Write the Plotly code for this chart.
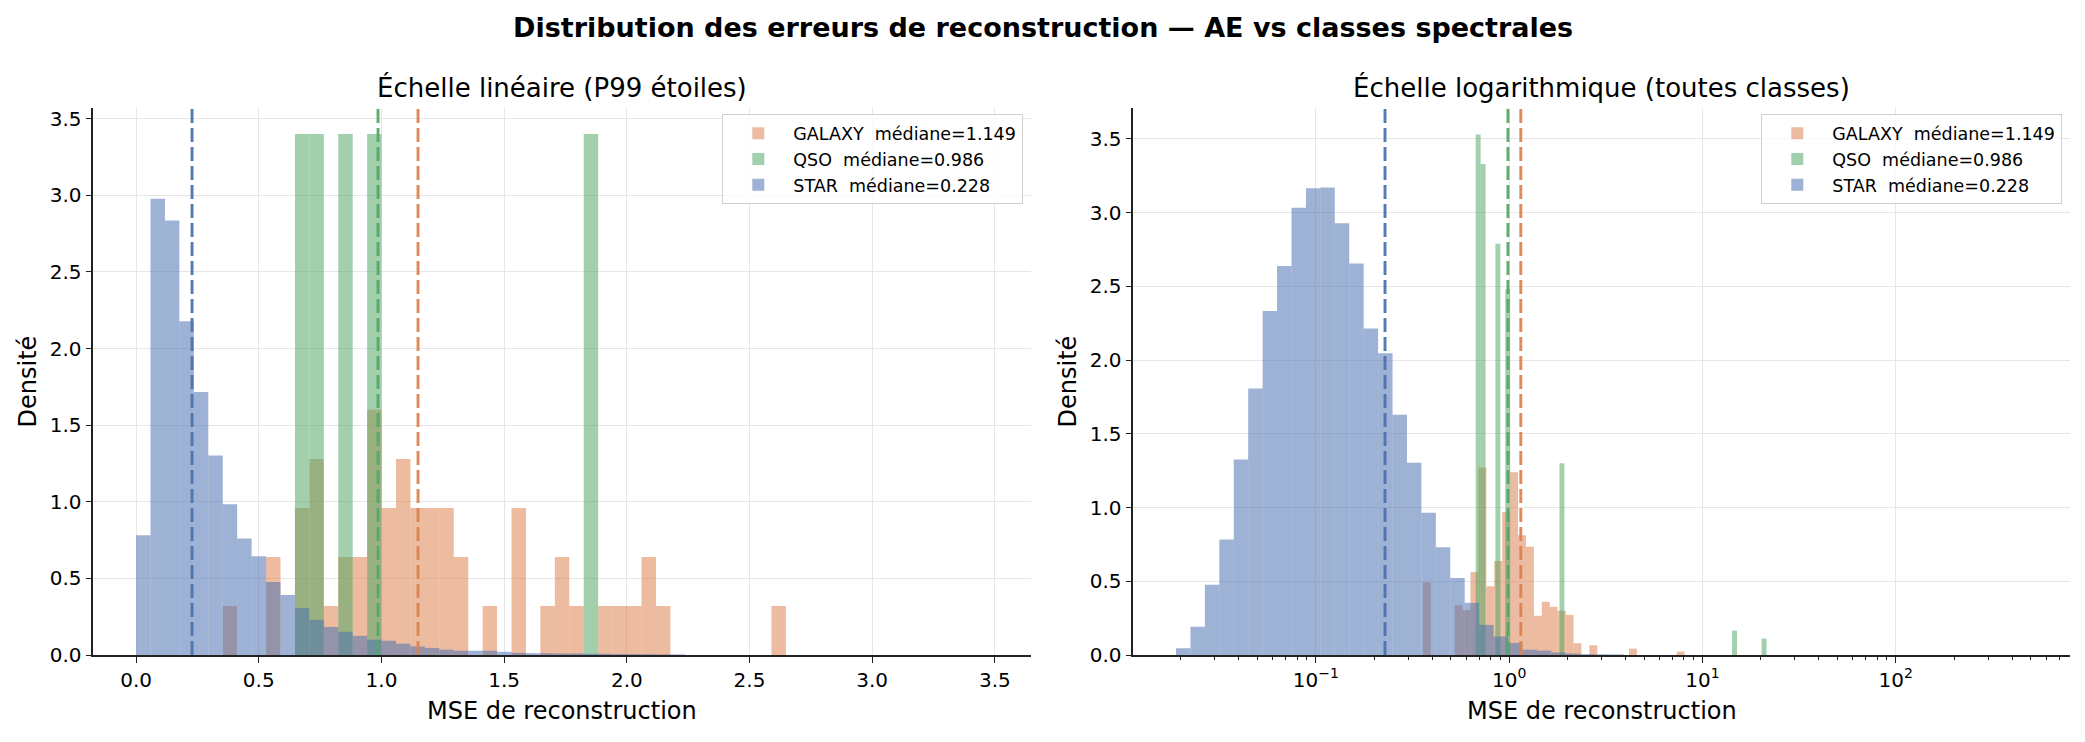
import plotly.graph_objects as go

# ---------------- data ----------------
CLASSES = ["GALAXY", "QSO", "STAR"]
MEDIANS = {"GALAXY": 1.149, "QSO": 0.986, "STAR": 0.228}
COLORS = {"GALAXY": "#dd8452", "QSO": "#55a868", "STAR": "#4c72b0"}

# Linear panel: common bins starting at 0
LIN_BIN_START = 0.0
LIN_BIN_WIDTH = 0.05885

galaxy_lin = [0, 0, 0, 0, 0, 0, 0.32, 0, 0, 0.64, 0, 0.96, 1.28, 0.32, 0.64,
              0.64, 1.60, 0.96, 1.28, 0.96, 0.96, 0.96, 0.64, 0, 0.32, 0, 0.96,
              0, 0.32, 0.64, 0.32, 0, 0.32, 0.32, 0.32, 0.64, 0.32, 0, 0, 0,
              0, 0, 0, 0, 0.32]
qso_lin = [0, 0, 0, 0, 0, 0, 0, 0, 0, 0, 0, 3.40, 3.40, 0, 3.40, 0, 3.40,
           0, 0, 0, 0, 0, 0, 0, 0, 0, 0, 0, 0, 0, 0, 3.40]
star_lin = [0.782, 2.977, 2.835, 2.179, 1.717, 1.302, 0.984, 0.761, 0.645,
            0.476, 0.392, 0.306, 0.230, 0.183, 0.151, 0.125, 0.100, 0.093,
            0.074, 0.056, 0.046, 0.035, 0.028, 0.028, 0.028, 0.021, 0.014,
            0.012, 0.012, 0.010, 0.010, 0.008, 0.008, 0.006, 0.006, 0.005,
            0.004, 0.004]

# Log panel: per-class log-spaced bins (start and width in log10 units)
GALAXY_LOG_START, GALAXY_LOG_WIDTH = -0.446, 0.041
QSO_LOG_START, QSO_LOG_WIDTH = -0.173, 0.0255
STAR_LOG_START, STAR_LOG_WIDTH = -1.723, 0.07466

galaxy_log = [0.493, 0, 0, 0, 0.337, 0.305, 0.562, 1.271, 0.466, 0.637, 0.969,
              1.240, 0.812, 0.734, 0.266, 0.361, 0.327, 0.300, 0.272, 0.080, 0,
              0.066, 0, 0, 0, 0, 0.043, 0, 0, 0, 0, 0, 0.023]
qso_log = [3.53, 3.33, 0, 0, 2.79, 0, 2.48, 0, 0, 0, 0, 0, 0, 0, 0, 0, 0, 1.30,
           0, 0, 0, 0, 0, 0, 0, 0, 0, 0, 0, 0, 0, 0, 0, 0, 0, 0, 0, 0, 0, 0,
           0, 0, 0, 0, 0, 0, 0, 0, 0, 0, 0, 0, 0.165, 0, 0, 0, 0, 0, 0.111]
star_log = [0.046, 0.191, 0.477, 0.783, 1.326, 1.808, 2.334, 2.639, 3.034,
            3.165, 3.170, 2.928, 2.656, 2.215, 2.046, 1.630, 1.304, 0.965,
            0.730, 0.523, 0.354, 0.204, 0.126, 0.082, 0.036, 0.030, 0.017,
            0.010, 0.006, 0.005, 0.004]

LIN_DATA = {"GALAXY": galaxy_lin, "QSO": qso_lin, "STAR": star_lin}
LOG_DATA = {"GALAXY": (GALAXY_LOG_START, GALAXY_LOG_WIDTH, galaxy_log),
            "QSO": (QSO_LOG_START, QSO_LOG_WIDTH, qso_log),
            "STAR": (STAR_LOG_START, STAR_LOG_WIDTH, star_log)}

X_LIN_RANGE = [-0.174, 3.646]
Y_LIN_MAX = 3.57
X_LOG_RANGE = [-1.944, 2.901]
Y_LOG_MAX = 3.71

LOG_TICKS = [0.1, 1, 10, 100]
LOG_TICKTEXT = ["10<sup>\u22121</sup>", "10<sup>0</sup>", "10<sup>1</sup>", "10<sup>2</sup>"]

# ---------------- figure ----------------
W, H = 2085, 742
FONT = "DejaVu Sans"
ALPHA = 0.55


def px(x):
    return x / W


def py(y):
    return 1 - y / H


def rgba(hx, a):
    hx = hx.lstrip("#")
    r, g, b = int(hx[0:2], 16), int(hx[2:4], 16), int(hx[4:6], 16)
    return f"rgba({r},{g},{b},{a})"


fig = go.Figure()

LINE_STYLE = dict(width=2.9, dash="14px,5px")

# left panel
for name in CLASSES:
    heights = LIN_DATA[name]
    centers = [LIN_BIN_START + (k + 0.5) * LIN_BIN_WIDTH for k in range(len(heights))]
    fig.add_trace(go.Bar(
        x=centers, y=heights, width=LIN_BIN_WIDTH,
        marker=dict(color=rgba(COLORS[name], ALPHA), line=dict(width=0)),
        name=f"{name}  médiane={MEDIANS[name]:.3f}", legendgroup=name,
        xaxis="x", yaxis="y", legend="legend", hoverinfo="skip"))
    fig.add_trace(go.Scatter(
        x=[MEDIANS[name], MEDIANS[name]], y=[0, Y_LIN_MAX], mode="lines",
        line=dict(color=COLORS[name], **LINE_STYLE), opacity=0.95, legendgroup=name,
        showlegend=False, hoverinfo="skip", xaxis="x", yaxis="y"))

# right panel
for name in CLASSES:
    s, w, heights = LOG_DATA[name]
    lo = [10 ** (s + k * w) for k in range(len(heights))]
    hi = [10 ** (s + (k + 1) * w) for k in range(len(heights))]
    centers = [(a + b) / 2 for a, b in zip(lo, hi)]
    widths = [b - a for a, b in zip(lo, hi)]
    fig.add_trace(go.Bar(
        x=centers, y=heights, width=widths,
        marker=dict(color=rgba(COLORS[name], ALPHA), line=dict(width=0)),
        name=f"{name}  médiane={MEDIANS[name]:.3f}", legendgroup=name + "2",
        xaxis="x2", yaxis="y2", legend="legend2", hoverinfo="skip"))
    fig.add_trace(go.Scatter(
        x=[MEDIANS[name], MEDIANS[name]], y=[0, Y_LOG_MAX], mode="lines",
        line=dict(color=COLORS[name], **LINE_STYLE), opacity=0.95, legendgroup=name + "2",
        showlegend=False, hoverinfo="skip", xaxis="x2", yaxis="y2"))

AX_COLOR = "#222222"
GRID = "#e6e6e6"
TICKFONT = dict(family=FONT, size=20, color="#000000")

axis_common = dict(showline=True, linecolor=AX_COLOR, linewidth=1.6, ticks="outside",
                   ticklen=6, tickwidth=1.3, tickcolor=AX_COLOR, showgrid=True,
                   gridcolor=GRID, gridwidth=1.2, zeroline=False, tickfont=TICKFONT,
                   mirror=False, automargin=False)

minor_vals = [m * 10 ** e for e in range(-2, 3) for m in range(2, 10)]

L_X0, L_X1 = 93.4, 1030.7
R_X0, R_X1 = 1133.3, 2070.0
Y_TOP, Y_BOT = 108.0, 655.0

legend_common = dict(xanchor="right", yanchor="top", bgcolor="rgba(255,255,255,0.8)",
                     bordercolor="#d0d0d0", borderwidth=1.3, itemwidth=60,
                     tracegroupgap=3,
                     font=dict(family=FONT, size=17.5, color="#000000"), traceorder="normal")

fig.update_layout(
    template="none",
    width=W, height=H, autosize=False,
    margin=dict(l=0, r=0, t=0, b=0, pad=0, autoexpand=False),
    paper_bgcolor="white", plot_bgcolor="white",
    barmode="overlay",
    font=dict(family=FONT, color="#000000"),
    xaxis=dict(domain=[px(L_X0), px(L_X1)], range=X_LIN_RANGE, tickmode="linear",
               tick0=0, dtick=0.5, tickformat=".1f", anchor="y", **axis_common),
    yaxis=dict(domain=[py(Y_BOT), py(Y_TOP)], range=[0, Y_LIN_MAX], tickmode="linear",
               tick0=0, dtick=0.5, tickformat=".1f", anchor="x", **axis_common),
    xaxis2=dict(domain=[px(R_X0), px(R_X1)], type="log", range=X_LOG_RANGE,
                tickmode="array", tickvals=LOG_TICKS, ticktext=LOG_TICKTEXT, anchor="y2",
                minor=dict(tickmode="array", tickvals=minor_vals, ticks="outside", ticklen=3.5,
                           tickwidth=1.0, tickcolor=AX_COLOR, showgrid=False),
                **axis_common),
    yaxis2=dict(domain=[py(Y_BOT), py(Y_TOP)], range=[0, Y_LOG_MAX], tickmode="linear",
                tick0=0, dtick=0.5, tickformat=".1f", anchor="x2", **axis_common),
    legend=dict(x=px(1023), y=py(114), **legend_common),
    legend2=dict(x=px(2062), y=py(114), **legend_common),
)

lx = px((L_X0 + L_X1) / 2)
rx = px((R_X0 + R_X1) / 2)
ymid = py((Y_TOP + Y_BOT) / 2)

annotations = [
    dict(text="<b>Distribution des erreurs de reconstruction — AE vs classes spectrales</b>",
         x=px(1042.5), y=py(27), font=dict(family=FONT, size=27, color="#000000")),
    dict(text="Échelle linéaire (P99 étoiles)", x=lx, y=py(88),
         font=dict(family=FONT, size=26, color="#000000")),
    dict(text="Échelle logarithmique (toutes classes)", x=rx, y=py(88),
         font=dict(family=FONT, size=26, color="#000000")),
    dict(text="MSE de reconstruction", x=lx, y=py(711),
         font=dict(family=FONT, size=24, color="#000000")),
    dict(text="MSE de reconstruction", x=rx, y=py(711),
         font=dict(family=FONT, size=24, color="#000000")),
    dict(text="Densité", x=px(27), y=ymid, textangle=-90,
         font=dict(family=FONT, size=24, color="#000000")),
    dict(text="Densité", x=px(1067), y=ymid, textangle=-90,
         font=dict(family=FONT, size=24, color="#000000")),
]
for a in annotations:
    a.update(xref="paper", yref="paper", showarrow=False, xanchor="center", yanchor="middle")
fig.update_layout(annotations=annotations)

# Remove the default page margin so the figure sits exactly at the window origin.
fig.write_html("out.html", config={"displayModeBar": False},
               post_script="document.body.style.margin='0';document.body.style.padding='0';"
                           "document.documentElement.style.overflow='hidden';")
